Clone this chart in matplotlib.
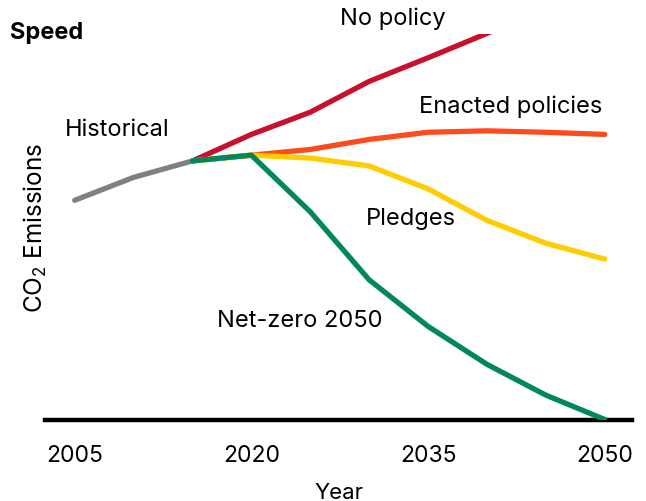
import matplotlib.pyplot as plt

plt.rcParams['font.family'] = ['Inter', 'DejaVu Sans']
plt.rcParams['mathtext.fontset'] = 'custom'
plt.rcParams['mathtext.rm'] = 'Inter'

# CO2 emissions (Gt)
hist_years = [2005, 2010, 2015]
historical = [30.7, 33.9, 36.2]

years = [2015, 2020, 2025, 2030, 2035, 2040, 2045, 2050]
no_policy = [36.2, 39.9, 43.0, 47.3, 50.6, 54.0, 57.5, 61.0]
enacted = [36.2, 37.0, 37.8, 39.2, 40.2, 40.4, 40.2, 39.9]
pledges = [36.2, 37.0, 36.6, 35.5, 32.3, 27.9, 24.7, 22.5]
net_zero = [36.2, 37.0, 29.1, 19.6, 13.1, 7.8, 3.5, 0.1]

xticks = [2005, 2020, 2035, 2050]

fig = plt.figure(figsize=(6.46, 5.02), dpi=100)
ax = fig.add_axes([0.07, 0.161, 0.908, 0.769])

lw = 3.8
ax.plot(hist_years, historical, color='#808080', lw=lw, solid_capstyle='round', zorder=3)
ax.plot(years, no_policy, color='#C8102E', lw=lw, solid_capstyle='round', zorder=3)
ax.plot(years, enacted, color='#FF4A1C', lw=lw, solid_capstyle='round', zorder=4)
ax.plot(years, pledges, color='#FFCC00', lw=lw, solid_capstyle='round', zorder=5)
ax.plot(years, net_zero, color='#00875A', lw=lw, solid_capstyle='round', zorder=6)

ax.axhline(0, color='black', lw=3.2, zorder=2, clip_on=False)

ax.set_xlim(2002.5, 2052.3)
ax.set_ylim(0, 53.9)
for s in ax.spines.values():
    s.set_visible(False)
ax.set_yticks([])
ax.set_xticks(xticks)
ax.tick_params(axis='x', length=0, pad=17, labelsize=16.5)
ax.set_xlabel('Year', fontsize=16, labelpad=12)
ax.set_ylabel('CO$_2$ Emissions', fontsize=17.5, labelpad=-3)

fs = 17
ax.text(2027.5, 56.2, 'No policy', fontsize=fs, ha='left', va='center', clip_on=False)
ax.text(2034.2, 43.9, 'Enacted policies', fontsize=fs, ha='left', va='center')
ax.text(2004.2, 40.6, 'Historical', fontsize=fs, ha='left', va='center')
ax.text(2029.7, 28.2, 'Pledges', fontsize=fs, ha='left', va='center')
ax.text(2017.1, 14.0, 'Net-zero 2050', fontsize=fs, ha='left', va='center')

fig.text(0.015, 0.935, 'Speed', fontsize=17, fontweight='bold', ha='left', va='center')

fig.savefig('out.png', dpi=100)
